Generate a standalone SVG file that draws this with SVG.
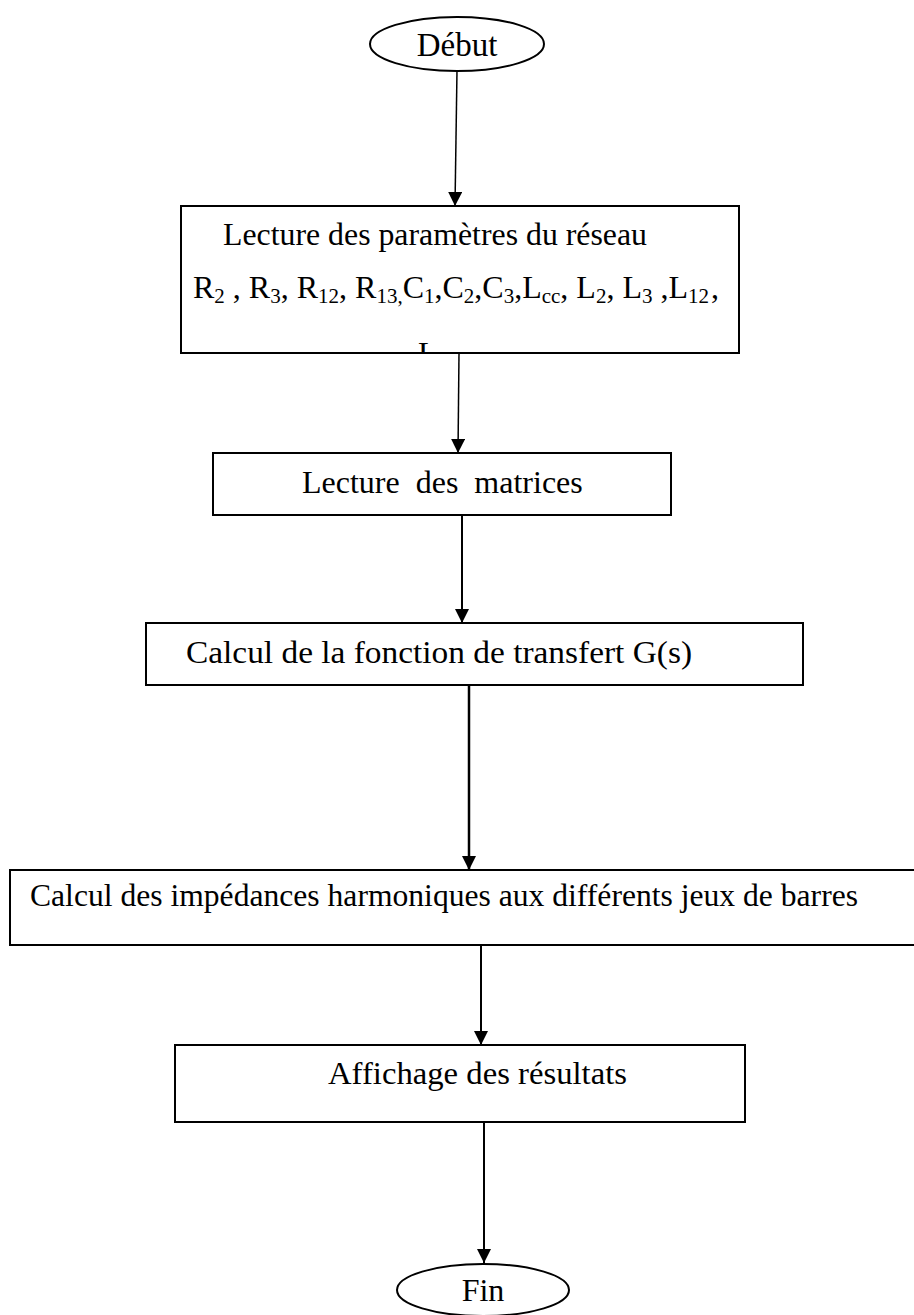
<svg xmlns="http://www.w3.org/2000/svg" width="914" height="1315" viewBox="0 0 914 1315">
<style>
.shape{fill:#fff;stroke:#000;stroke-width:2}
.t{font-family:"Liberation Serif","Times New Roman",serif;font-size:32px;fill:#000}
.sub{font-size:21px}
.conn line{stroke:#000;stroke-width:2;fill:none}
</style>
<defs>
<marker id="ah" viewBox="0 0 10 10" refX="10" refY="5" markerWidth="17" markerHeight="14" markerUnits="userSpaceOnUse" orient="auto">
<path d="M0,0 L10,5 L0,10 z" fill="#000"/>
</marker>
<clipPath id="c1"><rect x="181" y="206" width="558" height="147"/></clipPath>
</defs>
<rect width="914" height="1315" fill="#fff"/>
<g class="conn">
<line x1="457" y1="70" x2="455" y2="206" marker-end="url(#ah)" style="stroke-width:1.5"/>
<line x1="459" y1="353" x2="458" y2="453" marker-end="url(#ah)" style="stroke-width:1.5"/>
<line x1="462" y1="515" x2="462" y2="623" marker-end="url(#ah)"/>
<line x1="469" y1="685" x2="469" y2="870" marker-end="url(#ah)" style="stroke-width:2.5"/>
<line x1="481" y1="945" x2="481" y2="1045" marker-end="url(#ah)"/>
<line x1="484" y1="1122" x2="484" y2="1263" marker-end="url(#ah)"/>
</g>
<g id="debut">
<ellipse class="shape" cx="457" cy="44" rx="87" ry="27"/>
<text class="t" x="457" y="56" text-anchor="middle" style="font-size:33px">Début</text>
</g>
<g id="lecture-parametres">
<rect class="shape" x="181" y="206" width="558" height="147"/>
<text class="t" x="223" y="245" textLength="424" lengthAdjust="spacingAndGlyphs">Lecture des paramètres du réseau</text>
<text class="t" x="193" y="298">R<tspan class="sub" dy="5">2</tspan><tspan dy="-5"> , R</tspan><tspan class="sub" dy="5">3</tspan><tspan dy="-5">, R</tspan><tspan class="sub" dy="5">12</tspan><tspan dy="-5">, R</tspan><tspan class="sub" dy="5">13,</tspan><tspan dy="-5">C</tspan><tspan class="sub" dy="5">1</tspan><tspan dy="-5">,C</tspan><tspan class="sub" dy="5">2</tspan><tspan dy="-5">,C</tspan><tspan class="sub" dy="5">3</tspan><tspan dy="-5">,L</tspan><tspan class="sub" dy="5">cc</tspan><tspan dy="-5">, L</tspan><tspan class="sub" dy="5">2</tspan><tspan dy="-5">, L</tspan><tspan class="sub" dy="5">3</tspan><tspan dy="-5"> ,L</tspan><tspan class="sub" dy="5">12</tspan><tspan dy="-5" dx="2">,</tspan></text>
<text class="t" x="418" y="364" clip-path="url(#c1)">L</text>
</g>
<g id="lecture-matrices">
<rect class="shape" x="213" y="453" width="458" height="62"/>
<text class="t" x="302" y="493" xml:space="preserve">Lecture  des  matrices</text>
</g>
<g id="calcul-transfert">
<rect class="shape" x="146" y="623" width="657" height="62"/>
<text class="t" x="186" y="663" textLength="506" lengthAdjust="spacingAndGlyphs">Calcul de la fonction de transfert G(s)</text>
</g>
<g id="calcul-impedances">
<rect class="shape" x="10" y="870" width="912" height="75"/>
<text class="t" x="30" y="906" textLength="828" lengthAdjust="spacingAndGlyphs">Calcul des impédances harmoniques aux différents jeux de barres</text>
</g>
<g id="affichage">
<rect class="shape" x="175" y="1045" width="570" height="77"/>
<text class="t" x="328" y="1084" textLength="299" lengthAdjust="spacingAndGlyphs">Affichage des résultats</text>
</g>
<g id="fin">
<ellipse class="shape" cx="483" cy="1290" rx="86" ry="26"/>
<text class="t" x="483" y="1301" text-anchor="middle">Fin</text>
</g>
</svg>
